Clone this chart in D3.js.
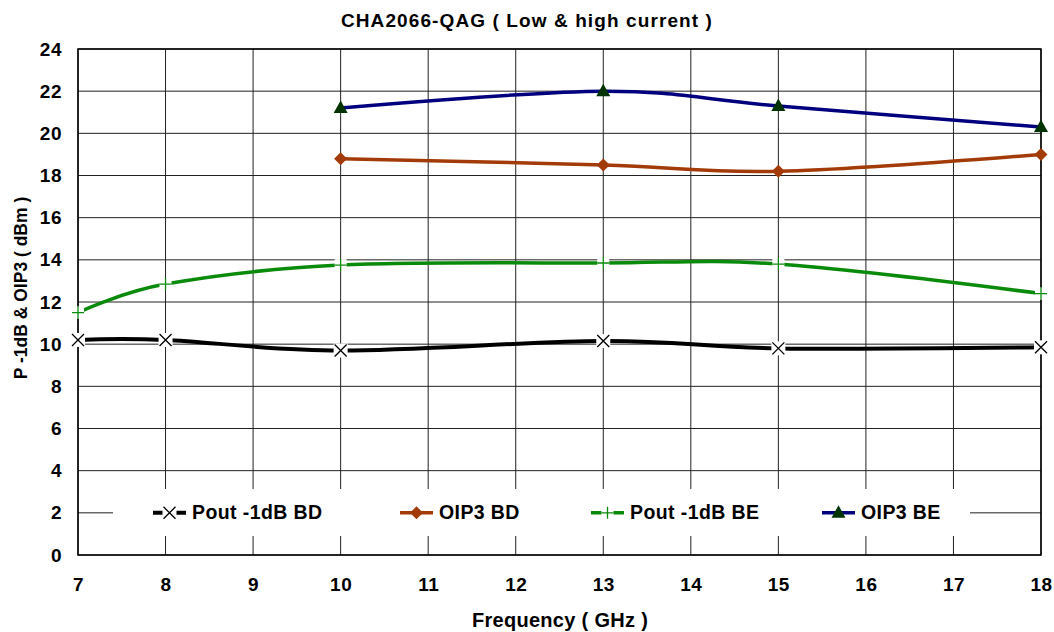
<!DOCTYPE html>
<html>
<head>
<meta charset="utf-8">
<script src="https://cdn.jsdelivr.net/npm/d3@7"></script>
<style>
  body { margin: 0; background: #fff; }
  text { font-family: "Liberation Sans", Arial, sans-serif; font-weight: bold; }
</style>
</head>
<body>
<svg id="chart" width="1054" height="632"></svg>
<script>
// data
var freqAll = [7, 8, 10, 13, 15, 18];
var freqHigh = [10, 13, 15, 18];
var poutBD = [10.2, 10.2, 9.7, 10.15, 9.8, 9.85];
var oip3BD = [18.8, 18.5, 18.2, 19.0];
var poutBE = [11.5, 12.85, 13.75, 13.85, 13.8, 12.4];
var oip3BE = [21.2, 22.0, 21.3, 20.3];
var xTicks = d3.range(7, 19);
var yTicks = d3.range(0, 25, 2);

var series = [
  { name: "Pout -1dB BD", x: freqAll, y: poutBD, color: "#000000", marker: "cross", mcolor: "#000000", width: 4 },
  { name: "OIP3 BD", x: freqHigh, y: oip3BD, color: "#a33b08", marker: "diamond", mcolor: "#a33b08", width: 3.5 },
  { name: "Pout -1dB BE", x: freqAll, y: poutBE, color: "#0a8a0a", marker: "plus", mcolor: "#0a8a0a", width: 3.5 },
  { name: "OIP3 BE", x: freqHigh, y: oip3BE, color: "#00007f", marker: "triangle", mcolor: "#003300", width: 3.5 }
];

var svg = d3.select("#chart");
var pLeft = 78, pRight = 1041, pTop = 49, pBottom = 555;

var x = d3.scaleLinear().domain([7, 18]).range([pLeft, pRight]);
var y = d3.scaleLinear().domain([0, 24]).range([pBottom, pTop]);

// grid
var grid = svg.append("g");
grid.selectAll(".gx").data(xTicks).enter().append("line")
  .attr("x1", function(d) { return x(d); }).attr("x2", function(d) { return x(d); })
  .attr("y1", pTop).attr("y2", pBottom)
  .attr("stroke", "#222").attr("stroke-width", 1);
grid.selectAll(".gy").data(yTicks).enter().append("line")
  .attr("x1", pLeft).attr("x2", pRight)
  .attr("y1", function(d) { return y(d); }).attr("y2", function(d) { return y(d); })
  .attr("stroke", "#222").attr("stroke-width", 1);

// axes (labels only)
var xAxis = svg.append("g").attr("transform", "translate(0," + pBottom + ")")
  .call(d3.axisBottom(x).tickValues(xTicks).tickSize(0).tickPadding(23));
var yAxis = svg.append("g").attr("transform", "translate(" + pLeft + ",0)")
  .call(d3.axisLeft(y).tickValues(yTicks).tickSize(0).tickPadding(16));
[xAxis, yAxis].forEach(function(a) {
  a.select(".domain").remove();
  a.selectAll("text").attr("font-size", 19).attr("fill", "#000")
    .attr("font-family", "Liberation Sans, Arial, sans-serif").attr("font-weight", "bold")
    .attr("letter-spacing", 0.5);
});

// frame
svg.append("rect").attr("x", pLeft).attr("y", pTop)
  .attr("width", pRight - pLeft).attr("height", pBottom - pTop)
  .attr("fill", "none").attr("stroke", "#000").attr("stroke-width", 1.5);

// legend background
var legY = y(2);
svg.append("rect").attr("x", 113).attr("y", 489).attr("width", 857).attr("height", 47).attr("fill", "#fff");

// lines
var line = d3.line()
  .x(function(d) { return x(d[0]); })
  .y(function(d) { return y(d[1]); })
  .curve(d3.curveCardinal.tension(0));

function drawMarker(g, type, color) {
  if (type === "cross") {
    g.append("rect").attr("x", -7).attr("y", -7).attr("width", 14).attr("height", 14).attr("fill", "#fff");
    g.append("path").attr("d", "M-6,-6L6,6M-6,6L6,-6").attr("stroke", color).attr("stroke-width", 1.3).attr("fill", "none");
  } else if (type === "plus") {
    g.append("rect").attr("x", -6).attr("y", -6).attr("width", 12).attr("height", 12).attr("fill", "#fff");
    g.append("path").attr("d", "M-6,0L6,0M0,-6L0,6").attr("stroke", color).attr("stroke-width", 1.3).attr("fill", "none");
  } else if (type === "diamond") {
    g.append("path").attr("d", "M0,-6.5L6.5,0L0,6.5L-6.5,0Z").attr("fill", color);
  } else if (type === "triangle") {
    g.append("path").attr("d", "M0,-7.5L7,5L-7,5Z").attr("fill", color);
  }
}

series.forEach(function(s) {
  var pts = s.x.map(function(v, i) { return [v, s.y[i]]; });
  svg.append("path").datum(pts)
    .attr("d", line).attr("fill", "none")
    .attr("stroke", s.color).attr("stroke-width", s.width);
  pts.forEach(function(p) {
    var g = svg.append("g").attr("transform", "translate(" + x(p[0]) + "," + y(p[1]) + ")");
    drawMarker(g, s.marker, s.mcolor);
  });
});

// legend
var legX = [153, 400, 591, 822];
series.forEach(function(s, i) {
  var lx = legX[i];
  svg.append("line").attr("x1", lx).attr("x2", lx + 33).attr("y1", legY).attr("y2", legY)
    .attr("stroke", s.color).attr("stroke-width", s.width);
  var g = svg.append("g").attr("transform", "translate(" + (lx + 16.5) + "," + legY + ")");
  drawMarker(g, s.marker, s.mcolor);
  svg.append("text").attr("x", lx + 39).attr("y", legY + 6.5)
    .attr("font-size", 19.5).attr("letter-spacing", 0.4).attr("fill", "#000").text(s.name);
});

// title and axis titles
svg.append("text").attr("x", 527).attr("y", 27).attr("text-anchor", "middle")
  .attr("font-size", 19).attr("letter-spacing", 1.1).text("CHA2066-QAG ( Low & high current )");
svg.append("text").attr("x", 560).attr("y", 627).attr("text-anchor", "middle")
  .attr("font-size", 20).attr("letter-spacing", 0.3).text("Frequency ( GHz )");
svg.append("text").attr("transform", "translate(27,288) rotate(-90)").attr("text-anchor", "middle")
  .attr("font-size", 17.5).text("P -1dB & OIP3 ( dBm )");
</script>
</body>
</html>
